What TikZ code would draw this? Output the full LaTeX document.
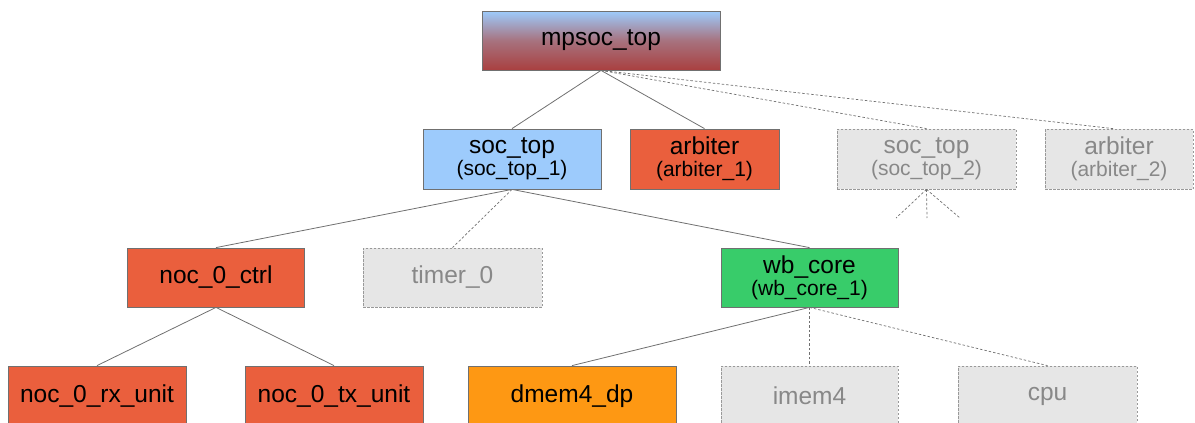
\documentclass[tikz,border=0pt]{standalone}
\usepackage{fontspec}
\setmainfont{Liberation Sans}
\definecolor{red1}{HTML}{EA5F3D}
\definecolor{blue1}{HTML}{9DCBFC}
\definecolor{green1}{HTML}{38CC6A}
\definecolor{orange1}{HTML}{FE9813}
\definecolor{ghost}{HTML}{E6E6E6}
\definecolor{ghostline}{HTML}{999999}
\definecolor{ghosttext}{HTML}{888888}
\definecolor{edge}{HTML}{707070}
\newcommand{\mainlbl}{\fontsize{24.5}{26}\selectfont}
\newcommand{\sublbl}{\fontsize{21}{23}\selectfont}
\begin{document}
\begin{tikzpicture}[x=1pt,y=-1pt,
  box/.style={draw=edge, line width=0.8pt, inner sep=0pt, align=center, font=\mainlbl, text=black},
  ghostbox/.style={draw=ghostline, fill=ghost, dashed, dash pattern=on 2.5pt off 1.5pt, line width=0.8pt, inner sep=0pt, align=center, font=\mainlbl, text=ghosttext},
  link/.style={draw=edge, line width=0.8pt},
  ghostlink/.style={draw=edge, line width=0.7pt, dash pattern=on 2.5pt off 2pt}]
\useasboundingbox (0,0) rectangle (1195,423);
\node[box, top color=blue1, bottom color=red!55!black!75, middle color=blue1!50!red!50!gray, minimum width=238pt, minimum height=59pt] (mpsoc) at (601,40.5) {mpsoc\_top};
\node[box, fill=blue1, minimum width=178pt, minimum height=60pt] (soc1) at (512,159) {soc\_top\\[-4pt]{\sublbl(soc\_top\_1)}};
\node[box, fill=red1, minimum width=149pt, minimum height=60pt] (arb1) at (704.5,159) {arbiter\\[-4pt]{\sublbl(arbiter\_1)}};
\node[ghostbox, minimum width=179pt, minimum height=60pt] (soc2) at (926.5,159) {soc\_top\\[-4pt]{\sublbl(soc\_top\_2)}};
\node[ghostbox, minimum width=148pt, minimum height=60pt] (arb2) at (1119,159) {arbiter\\[-4pt]{\sublbl(arbiter\_2)}};
\node[box, fill=red1, minimum width=177pt, minimum height=59pt] (noc) at (216,277.5) {noc\_0\_ctrl};
\node[ghostbox, minimum width=179pt, minimum height=59pt] (timer) at (452.5,277.5) {timer\_0};
\node[box, fill=green1, minimum width=177pt, minimum height=59pt] (wb) at (809.5,277.5) {wb\_core\\[-4pt]{\sublbl(wb\_core\_1)}};
\node[box, fill=red1, minimum width=178pt, minimum height=60pt] (rx) at (97,396) {noc\_0\_rx\_unit};
\node[box, fill=red1, minimum width=178pt, minimum height=60pt] (tx) at (334,396) {noc\_0\_tx\_unit};
\node[box, fill=orange1, minimum width=208pt, minimum height=60pt] (dmem) at (572,396) {dmem4\_dp};
\node[ghostbox, minimum width=177pt, minimum height=60pt] (imem) at (809.5,396) {imem4};
\node[ghostbox, minimum width=179pt, minimum height=60pt] (cpu) at (1047.5,396) {cpu};
\coordinate (s1) at (896,218);
\coordinate (s2) at (927,218);
\coordinate (s3) at (960,218);
\draw[link] (mpsoc.south) -- (soc1.north);
\draw[link] (mpsoc.south) -- (arb1.north);
\draw[ghostlink] (mpsoc.south) -- (soc2.north);
\draw[ghostlink] (mpsoc.south) -- ([xshift=-6pt]arb2.north);
\draw[ghostlink] (soc2.south) -- (s1);
\draw[ghostlink] (soc2.south) -- (s2);
\draw[ghostlink] (soc2.south) -- (s3);
\draw[link] (soc1.south) -- (noc.north);
\draw[ghostlink] (soc1.south) -- (timer.north);
\draw[link] (soc1.south) -- (wb.north);
\draw[link] (noc.south) -- (rx.north);
\draw[link] (noc.south) -- (tx.north);
\draw[link] (wb.south) -- (dmem.north);
\draw[ghostlink] (wb.south) -- (imem.north);
\draw[ghostlink] (wb.south) -- (cpu.north);
\end{tikzpicture}
\end{document}
